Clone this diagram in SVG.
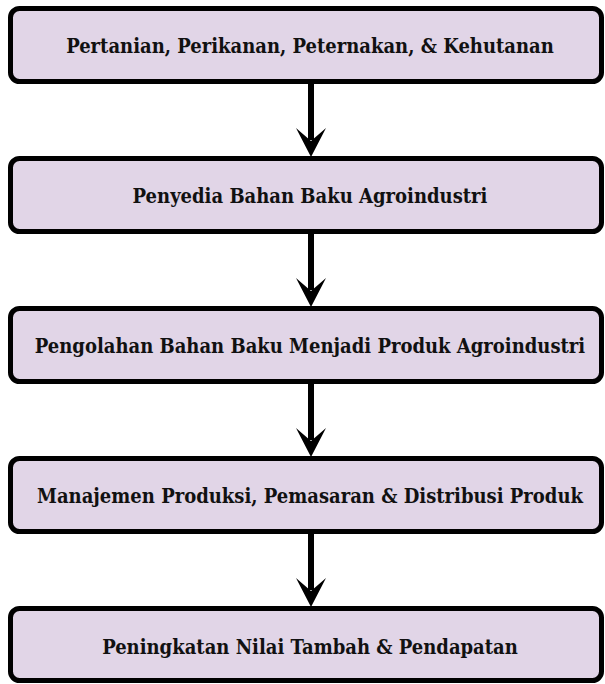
<svg xmlns="http://www.w3.org/2000/svg" width="605" height="684" viewBox="0 0 605 684">
<style>
.box{fill:#e1d5e7;stroke:#000;stroke-width:5}
.lbl{font-family:"DejaVu Serif Condensed","DejaVu Serif",serif;font-weight:bold;font-size:20px;fill:#111;text-anchor:middle}
.edge{stroke:#000;stroke-width:6;fill:none}
.head{fill:#000}
</style>
<rect width="605" height="684" fill="#fff"/>
<g id="connectors">
<line class="edge" x1="311" y1="84" x2="311" y2="140"/>
<path class="head" d="M311 157 L296 128 L311 141 L326 128 Z"/>
<line class="edge" x1="311" y1="234" x2="311" y2="290"/>
<path class="head" d="M311 307 L296 278 L311 291 L326 278 Z"/>
<line class="edge" x1="311" y1="384" x2="311" y2="440"/>
<path class="head" d="M311 457 L296 428 L311 441 L326 428 Z"/>
<line class="edge" x1="311" y1="534" x2="311" y2="590"/>
<path class="head" d="M311 607 L296 578 L311 591 L326 578 Z"/>
</g>
<g id="node1"><rect class="box" x="10.5" y="8.5" width="591" height="73" rx="9"/><text class="lbl" x="310" y="52.5">Pertanian, Perikanan, Peternakan, &amp; Kehutanan</text></g>
<g id="node2"><rect class="box" x="10.5" y="158.5" width="591" height="73" rx="9"/><text class="lbl" x="310" y="202.5">Penyedia Bahan Baku Agroindustri</text></g>
<g id="node3"><rect class="box" x="10.5" y="308.5" width="591" height="73" rx="9"/><text class="lbl" x="310" y="352.5">Pengolahan Bahan Baku Menjadi Produk Agroindustri</text></g>
<g id="node4"><rect class="box" x="10.5" y="458.5" width="591" height="73" rx="9"/><text class="lbl" x="310" y="503">Manajemen Produksi, Pemasaran &amp; Distribusi Produk</text></g>
<g id="node5"><rect class="box" x="10.5" y="608.5" width="591" height="72" rx="9"/><text class="lbl" x="310" y="653.5">Peningkatan Nilai Tambah &amp; Pendapatan</text></g>
</svg>
